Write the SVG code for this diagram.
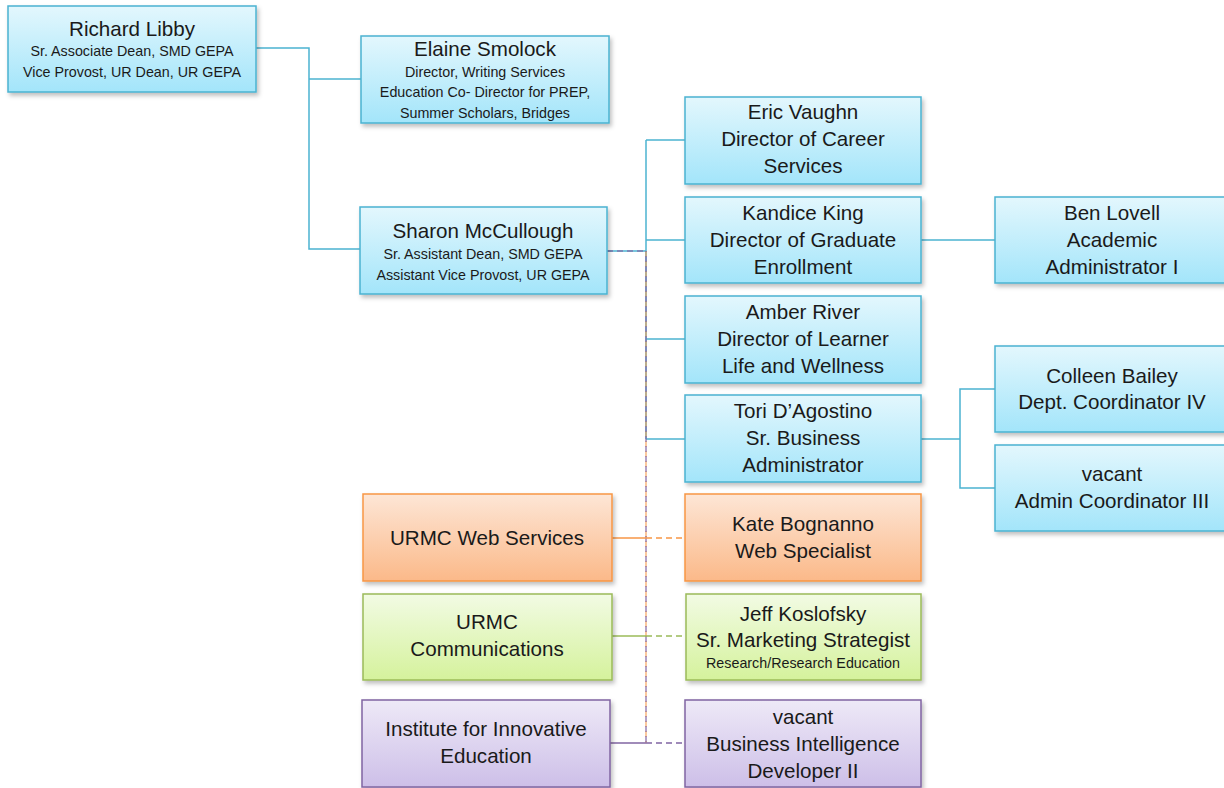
<svg xmlns="http://www.w3.org/2000/svg" width="1224" height="788" viewBox="0 0 1224 788">
<defs>
<linearGradient id="gBlue" x1="0" y1="0" x2="0" y2="1"><stop offset="0" stop-color="#e3f7fd"/><stop offset="1" stop-color="#a3e5fa"/></linearGradient>
<linearGradient id="gOrange" x1="0" y1="0" x2="0" y2="1"><stop offset="0" stop-color="#fde6d6"/><stop offset="1" stop-color="#fbb989"/></linearGradient>
<linearGradient id="gGreen" x1="0" y1="0" x2="0" y2="1"><stop offset="0" stop-color="#f2fbe4"/><stop offset="1" stop-color="#d5f29c"/></linearGradient>
<linearGradient id="gPurple" x1="0" y1="0" x2="0" y2="1"><stop offset="0" stop-color="#eee9f7"/><stop offset="1" stop-color="#cdbfe8"/></linearGradient>
<filter id="sh" x="-5%" y="-10%" width="115%" height="130%"><feDropShadow dx="2" dy="3" stdDeviation="2" flood-color="#000" flood-opacity="0.25"/></filter>
</defs>
<style>
.b{fill:url(#gBlue);stroke:#4bb3d1;stroke-width:1.5;filter:url(#sh)}
.o{fill:url(#gOrange);stroke:#f79646;stroke-width:1.5;filter:url(#sh)}
.g{fill:url(#gGreen);stroke:#9bbb59;stroke-width:1.5;filter:url(#sh)}
.p{fill:url(#gPurple);stroke:#8064a2;stroke-width:1.5;filter:url(#sh)}
text{font-family:"Liberation Sans",Arial,sans-serif;fill:#1a1a1a;text-anchor:middle}
.n{font-size:20.6px}
.s{font-size:14.3px}
.cb{stroke:#4bb3d1;stroke-width:1.5;fill:none}
.co{stroke:#f79646;stroke-width:1.5;fill:none}
.cg{stroke:#9bbb59;stroke-width:1.5;fill:none}
.cp{stroke:#8064a2;stroke-width:1.5;fill:none}
.d{stroke-dasharray:6,4}
</style>
<g id="connectors">
<polyline class="cb" points="256,48 309,48 309,249 360,249"/>
<line class="cb" x1="309" y1="79" x2="361" y2="79"/>
<line class="cb" x1="646" y1="140" x2="646" y2="439"/>
<line class="cb" x1="646" y1="140" x2="685" y2="140"/>
<line class="cb" x1="646" y1="240" x2="685" y2="240"/>
<line class="cb" x1="646" y1="339" x2="685" y2="339"/>
<line class="cb" x1="646" y1="439" x2="685" y2="439"/>
<line class="cb" x1="921" y1="240" x2="995" y2="240"/>
<line class="cb" x1="921" y1="439" x2="960" y2="439"/>
<polyline class="cb" points="995,389 960,389 960,488 995,488"/>
<line class="cb" x1="607" y1="251" x2="646" y2="251"/>
<line class="cp d" x1="607" y1="251" x2="646" y2="251" stroke-opacity="0.8"/>
<line class="co d" x1="646" y1="251" x2="646" y2="743" stroke-opacity="0.7"/>
<line class="cp d" x1="646" y1="251" x2="646" y2="743" stroke-dashoffset="5" stroke-opacity="0.8"/>
<line class="co" x1="612" y1="538" x2="646" y2="538"/>
<line class="co d" x1="646" y1="538" x2="685" y2="538"/>
<line class="cg" x1="612" y1="636" x2="646" y2="636"/>
<line class="cg d" x1="646" y1="636" x2="686" y2="636"/>
<line class="cp" x1="610" y1="743" x2="646" y2="743"/>
<line class="cp d" x1="646" y1="743" x2="685" y2="743"/>
</g>
<g id="richard"><rect class="b" x="8" y="6" width="248" height="86"/>
<text x="132" y="36" class="n">Richard Libby</text><text x="132" y="56" class="s">Sr. Associate Dean, SMD GEPA</text><text x="132" y="77" class="s">Vice Provost, UR Dean, UR GEPA</text></g>
<g id="elaine"><rect class="b" x="361" y="36" width="248" height="87"/>
<text x="485" y="56" class="n">Elaine Smolock</text><text x="485" y="77" class="s">Director, Writing Services</text><text x="485" y="97" class="s">Education Co- Director for PREP,</text><text x="485" y="118" class="s">Summer Scholars, Bridges</text></g>
<g id="sharon"><rect class="b" x="360" y="207" width="247" height="87"/>
<text x="483" y="238" class="n">Sharon McCullough</text><text x="483" y="259" class="s">Sr. Assistant Dean, SMD GEPA</text><text x="483" y="280" class="s">Assistant Vice Provost, UR GEPA</text></g>
<g id="eric"><rect class="b" x="685" y="97" width="236" height="87"/>
<text x="803" y="119" class="n">Eric Vaughn</text><text x="803" y="146" class="n">Director of Career</text><text x="803" y="173" class="n">Services</text></g>
<g id="kandice"><rect class="b" x="685" y="197" width="236" height="86"/>
<text x="803" y="220" class="n">Kandice King</text><text x="803" y="247" class="n">Director of Graduate</text><text x="803" y="274" class="n">Enrollment</text></g>
<g id="amber"><rect class="b" x="685" y="296" width="236" height="87"/>
<text x="803" y="319" class="n">Amber River</text><text x="803" y="346" class="n">Director of Learner</text><text x="803" y="373" class="n">Life and Wellness</text></g>
<g id="tori"><rect class="b" x="685" y="395" width="236" height="87"/>
<text x="803" y="418" class="n">Tori D’Agostino</text><text x="803" y="445" class="n">Sr. Business</text><text x="803" y="472" class="n">Administrator</text></g>
<g id="ben"><rect class="b" x="995" y="197" width="232" height="86"/>
<text x="1112" y="220" class="n">Ben Lovell</text><text x="1112" y="247" class="n">Academic</text><text x="1112" y="274" class="n">Administrator I</text></g>
<g id="colleen"><rect class="b" x="995" y="346" width="232" height="86"/>
<text x="1112" y="383" class="n">Colleen Bailey</text><text x="1112" y="409" class="n">Dept. Coordinator IV</text></g>
<g id="vacant-admin"><rect class="b" x="995" y="445" width="232" height="86"/>
<text x="1112" y="481" class="n">vacant</text><text x="1112" y="508" class="n">Admin Coordinator III</text></g>
<g id="web-services"><rect class="o" x="363" y="494" width="249" height="87"/>
<text x="487" y="545" class="n">URMC Web Services</text></g>
<g id="kate"><rect class="o" x="685" y="494" width="236" height="87"/>
<text x="803" y="531" class="n">Kate Bognanno</text><text x="803" y="558" class="n">Web Specialist</text></g>
<g id="communications"><rect class="g" x="363" y="594" width="249" height="86"/>
<text x="487" y="629" class="n">URMC</text><text x="487" y="656" class="n">Communications</text></g>
<g id="jeff"><rect class="g" x="686" y="594" width="235" height="86"/>
<text x="803" y="621" class="n">Jeff Koslofsky</text><text x="803" y="647" class="n">Sr. Marketing Strategist</text><text x="803" y="668" class="s">Research/Research Education</text></g>
<g id="institute"><rect class="p" x="362" y="700" width="248" height="87"/>
<text x="486" y="736" class="n">Institute for Innovative</text><text x="486" y="763" class="n">Education</text></g>
<g id="vacant-bi"><rect class="p" x="685" y="700" width="236" height="87"/>
<text x="803" y="724" class="n">vacant</text><text x="803" y="751" class="n">Business Intelligence</text><text x="803" y="778" class="n">Developer II</text></g>
</svg>
